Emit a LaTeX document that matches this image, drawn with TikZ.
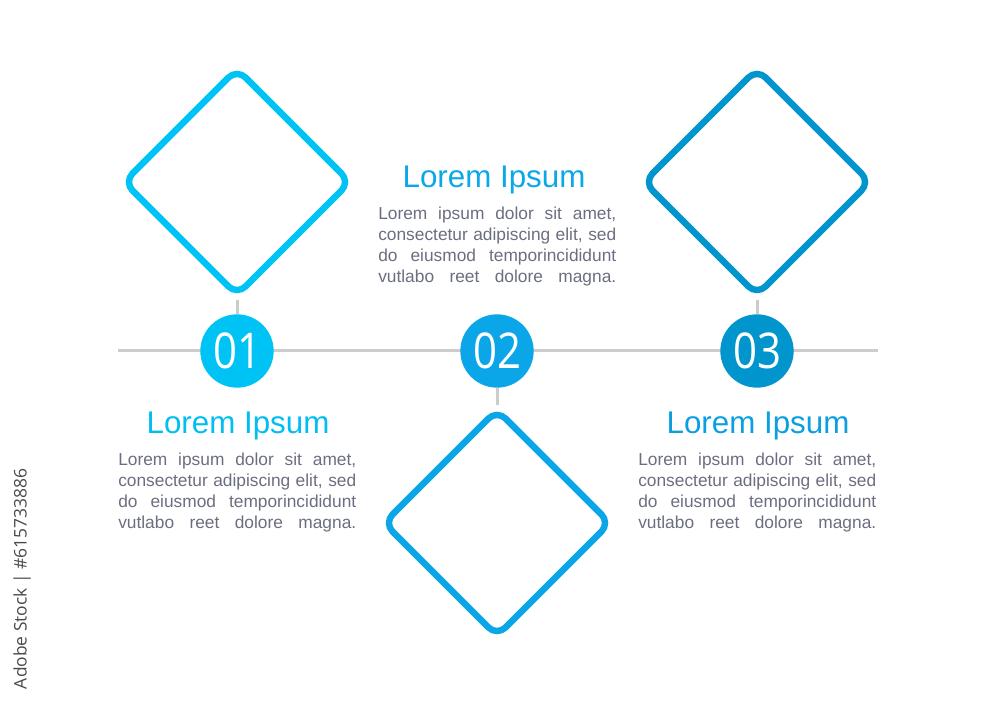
\documentclass[tikz,border=0pt]{standalone}
\usepackage{fontspec}
\usepackage{graphicx}
\setmainfont{Liberation Sans}
\newfontfamily\numfont{Open Sans}
\usetikzlibrary{shapes.geometric,backgrounds}
\definecolor{cA}{HTML}{00C3F5}
\definecolor{cB}{HTML}{0AA6E8}
\definecolor{cC}{HTML}{0096CD}
\definecolor{tA}{HTML}{00BEF2}
\definecolor{tB}{HTML}{0AA8E8}
\definecolor{tC}{HTML}{0AA0E0}
\definecolor{bodygray}{HTML}{6B6E80}
\definecolor{linegray}{HTML}{CCCCCC}
\definecolor{wmgray}{HTML}{4A4A4A}
\newcommand{\bodyline}[1]{\hbox{\makebox[178.5pt][s]{#1}}}
\newcommand{\bodyblock}{\vtop{\fontsize{13pt}{15.75pt}\selectfont\baselineskip=15.75pt
  \bodyline{Lorem ipsum dolor sit amet,}
  \bodyline{consectetur adipiscing elit, sed}
  \bodyline{do eiusmod temporincididunt}
  \bodyline{vutlabo reet dolore magna.}}}
\begin{document}
\begin{tikzpicture}[x=0.75pt,y=-0.75pt,
  diabox/.style={diamond, aspect=1, inner sep=0pt, minimum size=171.5pt,
    line width=4.8pt, rounded corners=9pt, draw=#1, fill=white},
  numcirc/.style={circle, inner sep=0pt, minimum size=55pt, fill=#1, text=white,
    font=\numfont\fontsize{37pt}{37pt}\selectfont},
  conn/.style={draw=linegray, line width=2.25pt},
  titletext/.style={anchor=base, inner sep=0pt, text=#1,
    font=\fontsize{23.5pt}{27pt}\selectfont},
  bodytext/.style={anchor=base west, inner sep=0pt, text=bodygray}]
\useasboundingbox (0,0) rectangle (1000,705);
% diamonds
\node[diabox=cA] (d1) at (237,182) {};
\node[diabox=cB] (d2) at (497,523) {};
\node[diabox=cC] (d3) at (757,182) {};
% circles
\node[numcirc=cA] (c1) at (237,351) {\scalebox{0.85}[1]{01}};
\node[numcirc=cB] (c2) at (497,351) {\scalebox{0.85}[1]{02}};
\node[numcirc=cC] (c3) at (757,351) {\scalebox{0.85}[1]{03}};
\coordinate (lineL) at (118,351);
\coordinate (lineR) at (878,351);
\begin{scope}[on background layer]
\draw[conn] (lineL) -- (lineR);
\draw[conn] (d1.south) -- (c1.north);
\draw[conn] (c2.south) -- (d2.north);
\draw[conn] (d3.south) -- (c3.north);
\end{scope}
% texts
\node[titletext=tB] (t2) at (494,188) {Lorem Ipsum};
\node[bodytext] (b2) at (378,220) {\bodyblock};
\node[titletext=tA] (t1) at (238,434) {Lorem Ipsum};
\node[bodytext] (b1) at (118,466) {\bodyblock};
\node[titletext=tC] (t3) at (758,434) {Lorem Ipsum};
\node[bodytext] (b3) at (638,466) {\bodyblock};
% side label
\node[rotate=90, inner sep=0pt, text=wmgray, font=\numfont] (wm) at (22,579)
  {\resizebox{165pt}{!}{Adobe Stock | \#615733886}};
\end{tikzpicture}
\end{document}
